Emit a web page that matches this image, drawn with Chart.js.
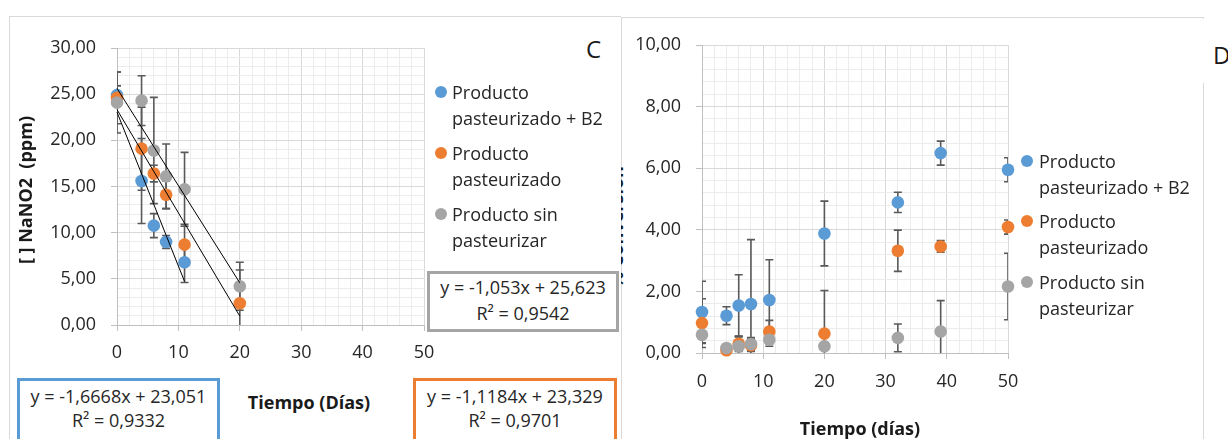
<!DOCTYPE html>
<html>
<head>
<meta charset="utf-8">
<script src="https://cdn.jsdelivr.net/npm/chart.js@4.4.1/dist/chart.umd.min.js"></script>
<style>
  body { margin: 0; width: 1228px; height: 439px; overflow: hidden; background: #fff; position: relative;
         font-family: "Open Sans", sans-serif; font-size: 18px; color: #262626; }
  .abs { position: absolute; }
  .frame { box-sizing: border-box; background: #fff; }
  .bold { font-weight: bold; color: #1a1a1a; white-space: nowrap; }
  .item { line-height: 26px; white-space: nowrap; }
  .dot { width: 12px; height: 12px; border-radius: 50%; }
  .eq { box-sizing: border-box; background: #fff; text-align: center; border-style: solid; border-width: 3px; white-space: nowrap; }
</style>
</head>
<body>
<div id="frameD" class="abs frame" style="left:621px; top:17px; width:583px; height:440px; border:1px solid #d9d9d9; z-index:1;"></div>
<div class="abs bold" style="left:551px; top:215px; width:130px; height:24px; line-height:24px; text-align:center; transform:rotate(-90deg); z-index:2;">% Conversión</div>
<canvas id="chartD" class="abs" width="400" height="421" style="left:622px; top:18px; z-index:2;"></canvas>
<div class="abs bold" style="left:780px; top:414px; width:160px; text-align:center; line-height:28px; z-index:2;">Tiempo (días)</div>
<div class="abs" style="left:1196px; top:19px; width:32px; height:64px; background:#fff; z-index:2;">
  <div class="abs" style="left:17px; top:20px; font-size:24px; line-height:32px; color:#1a1a1a;">D</div>
</div>
<div id="legendD"></div>

<div id="panelC" class="abs frame" style="left:9px; top:16px; width:612px; height:440px; border-left:1px solid #d9d9d9; border-top:1px solid #d9d9d9; z-index:3;"></div>
<canvas id="chartC" class="abs" width="430" height="363" style="left:10px; top:17px; z-index:4;"></canvas>
<div class="abs bold" style="left:-50px; top:178px; width:150px; height:24px; line-height:24px; text-align:center; transform:rotate(-90deg); z-index:4;">[ ] NaNO2&nbsp; (ppm)</div>
<div class="abs bold" style="left:229px; top:388px; width:160px; text-align:center; line-height:28px; z-index:4;">Tiempo (Días)</div>
<div class="abs" style="left:586px; top:33px; font-size:24px; line-height:32px; color:#1a1a1a; z-index:4;">C</div>
<div id="legendC"></div>
<div id="ecuaciones"></div>

<script>
const seriesNames = ['Producto pasteurizado + B2', 'Producto pasteurizado', 'Producto sin pasteurizar'];
// legend text, wrapped the way the legend box breaks it
const legendLines = [['Producto', 'pasteurizado + B2'], ['Producto', 'pasteurizado'], ['Producto sin', 'pasteurizar']];
const seriesColors = ['#5B9BD5', '#ED7D31', '#A5A5A5'];

// tick labels
const ticksX = [0, 10, 20, 30, 40, 50];
const ticksYC = [0, 5, 10, 15, 20, 25, 30];
const ticksYD = [0, 2, 4, 6, 8, 10];

// C: NaNO2 (ppm) vs days
const diasB2C = [0, 4, 6, 8, 11];
const diasC = [0, 4, 6, 8, 11, 20];
const nitritoB2 = [24.9, 15.6, 10.76, 9.0, 6.8];
const nitritoB2Err = [1.0, 4.6, 1.3, 0.7, 2.2];
const nitritoPast = [24.6, 19.1, 16.4, 14.1, 8.7, 2.35];
const nitritoPastErr = [2.8, 4.5, 0.9, 1.5, 2.2, 3.6];
const nitritoSin = [24.1, 24.3, 18.9, 16.1, 14.7, 4.2];
const nitritoSinErr = [3.3, 2.7, 5.75, 3.5, 4.0, 2.6];

// linear trend of each series in C
const tendPendiente = [-1.6668, -1.1184, -1.053];
const tendIntercepto = [23.051, 23.329, 25.623];
const tendR2 = [0.9332, 0.9701, 0.9542];
const tendHasta = [11, 20, 20];

// D: conversion vs days
const diasD = [0, 4, 6, 8, 11, 20, 32, 39, 50];
const convB2 = [1.33, 1.21, 1.54, 1.59, 1.72, 3.88, 4.89, 6.49, 5.95];
const convB2Err = [1.0, 0.29, 1.0, 2.09, 1.31, 1.05, 0.33, 0.39, 0.39];
const convPast = [0.97, 0.09, 0.30, 0.25, 0.70, 0.63, 3.32, 3.46, 4.09];
const convPastErr = [0.79, 0.10, 0.25, 0.20, 0.36, 1.40, 0.67, 0.19, 0.23];
const convSin = [0.59, 0.16, 0.22, 0.29, 0.43, 0.22, 0.49, 0.70, 2.16];
const convSinErr = [0.28, 0.05, 0.30, 0.21, 0.21, 0.10, 0.45, 1.00, 1.08];

const coma = v => String(v).replace('.', ',');
const isMajor = (list, v) => list.some(t => Math.abs(t - v) < 1e-6);

// vertical error bars with caps, clipped to the plot area
const errorBars = {
  id: 'errorBars',
  beforeDatasetsDraw(chart) {
    const {ctx, chartArea: a, scales: {x, y}} = chart;
    ctx.save();
    ctx.beginPath();
    ctx.rect(a.left, a.top, a.right - a.left, a.bottom - a.top);
    ctx.clip();
    ctx.strokeStyle = '#595959';
    ctx.lineWidth = 1.6;
    chart.data.datasets.forEach(ds => {
      if (!ds.errors) return;
      ds.data.forEach((p, i) => {
        const px = x.getPixelForValue(p.x);
        const top = y.getPixelForValue(p.y + ds.errors[i]);
        const bot = y.getPixelForValue(p.y - ds.errors[i]);
        ctx.beginPath();
        ctx.moveTo(px, top); ctx.lineTo(px, bot);
        ctx.moveTo(px - 4, top); ctx.lineTo(px + 4, top);
        ctx.moveTo(px - 4, bot); ctx.lineTo(px + 4, bot);
        ctx.stroke();
      });
    });
    ctx.restore();
  }
};

function points(xs, ys) {
  return xs.map((x, i) => ({x, y: ys[i]}));
}

function markerSet(i, xs, ys, errs) {
  return {
    label: seriesNames[i],
    data: points(xs, ys),
    errors: errs,
    backgroundColor: seriesColors[i],
    borderWidth: 0,
    pointRadius: 6.3,
    pointHoverRadius: 6.3,
    showLine: false,
    clip: false,
    order: 3 - i
  };
}

function trendSet(i) {
  const xs = [0, tendHasta[i]];
  return {
    label: 'tendencia ' + seriesNames[i],
    data: xs.map(x => ({x, y: tendPendiente[i] * x + tendIntercepto[i]})),
    borderColor: '#000',
    borderWidth: 1,
    pointRadius: 0,
    showLine: true,
    clip: false,
    order: 0
  };
}

function axis(major, step, fmt, pad, fit) {
  return {
    type: 'linear',
    min: major[0],
    max: major[major.length - 1],
    ticks: {
      stepSize: step,
      autoSkip: false,
      maxRotation: 0,
      minRotation: 0,
      padding: pad,
      color: '#262626',
      font: {size: 18},
      callback: v => isMajor(major, v) ? fmt(v) : ''
    },
    grid: {
      color: c => isMajor(major, c.tick.value) ? '#d9d9d9' : '#ececec',
      tickColor: c => isMajor(major, c.tick.value) ? '#bfbfbf' : 'rgba(0,0,0,0)',
      tickLength: 6
    },
    border: {color: '#bfbfbf'},
    afterFit: fit
  };
}

function fitWidth(w) {
  return s => { s.width = w; s.paddingTop = 0; s.paddingBottom = 0; };
}
function fitHeight(h) {
  return s => { s.height = h; s.paddingLeft = 0; s.paddingRight = 0; };
}

function makeChart(id, datasets, yTicks, yStep, padding, yWidth, xHeight, xPad) {
  return new Chart(document.getElementById(id), {
    type: 'scatter',
    data: {datasets},
    options: {
      responsive: false,
      animation: false,
      devicePixelRatio: 1,
      layout: {padding},
      plugins: {legend: {display: false}, tooltip: {enabled: false}},
      scales: {
        x: axis(ticksX, 2, v => String(v), xPad, fitHeight(xHeight)),
        y: axis(yTicks, yStep, v => v.toFixed(2).replace('.', ','), 15, fitWidth(yWidth))
      }
    },
    plugins: [errorBars]
  });
}

Chart.defaults.font.family = '"Open Sans", sans-serif';

makeChart('chartC', [
  markerSet(0, diasB2C, nitritoB2, nitritoB2Err),
  markerSet(1, diasC, nitritoPast, nitritoPastErr),
  markerSet(2, diasC, nitritoSin, nitritoSinErr),
  trendSet(0), trendSet(1), trendSet(2)
], ticksYC, 1, {left: 0, top: 31, right: 16, bottom: 0}, 107, 55, 11);

makeChart('chartD', [
  markerSet(0, diasD, convB2, convB2Err),
  markerSet(1, diasD, convPast, convPastErr),
  markerSet(2, diasD, convSin, convSinErr)
], ticksYD, 0.4, {left: 0, top: 27, right: 14, bottom: 0}, 80, 86, 12);

// legends: two text lines per series, marker beside the first line
function legend(el, dotX, textX, tops, z) {
  const html = legendLines.map((lines, i) =>
    `<div class="abs dot" style="left:${dotX - 6}px; top:${tops[i] + 7}px; background:${seriesColors[i]}; z-index:${z};"></div>` +
    `<div class="abs item" style="left:${textX}px; top:${tops[i]}px; z-index:${z};">${lines.join('<br>')}</div>`
  );
  document.getElementById(el).innerHTML = html.join('');
}
legend('legendC', 441, 452, [79, 140, 201], 4);
legend('legendD', 1027, 1039, [148, 208, 269], 2);

// trend equation boxes
const cajas = [
  {left: 17, top: 378, width: 203, height: 70, pad: 3, lh: 24},
  {left: 413, top: 378, width: 204, height: 70, pad: 3, lh: 24},
  {left: 427, top: 271, width: 192, height: 61, pad: 0, lh: 26}
];
document.getElementById('ecuaciones').innerHTML = cajas.map((c, i) =>
  `<div class="abs eq" style="left:${c.left}px; top:${c.top}px; width:${c.width}px; height:${c.height}px; ` +
  `padding-top:${c.pad}px; line-height:${c.lh}px; border-color:${seriesColors[i]}; z-index:4;">` +
  `y = ${coma(tendPendiente[i])}x + ${coma(tendIntercepto[i])}<br>R² = ${coma(tendR2[i])}</div>`
).join('');
</script>
</body>
</html>
